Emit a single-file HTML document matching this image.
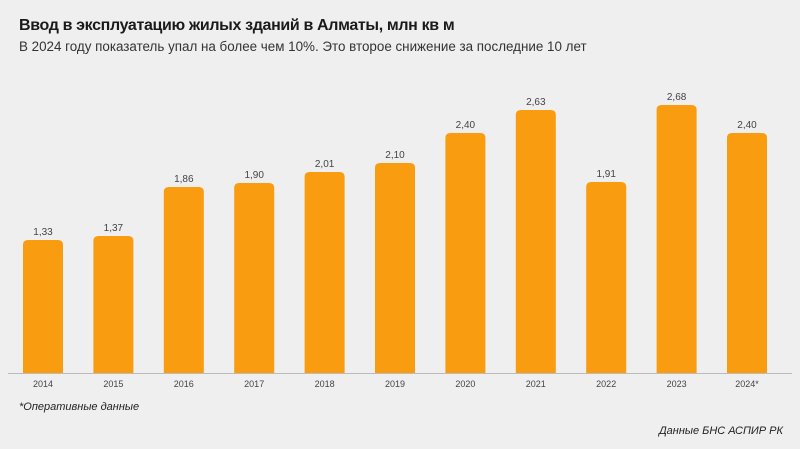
<!DOCTYPE html>
<html><head><meta charset="utf-8"><style>
body{margin:0;width:800px;height:449px;background:#efefef;font-family:"Liberation Sans",sans-serif;overflow:hidden;position:relative}
.t{position:absolute;left:19px;top:17px;font-size:16px;letter-spacing:-0.35px;font-weight:bold;color:#1a1a1a}
.s{position:absolute;left:19px;top:39px;font-size:13.4px;color:#333}
.f1{position:absolute;left:19px;top:401px;font-size:11px;font-style:italic;color:#222}
.f2{position:absolute;right:17px;top:425px;font-size:11px;font-style:italic;color:#222}
</style></head><body>
<div class="t">Ввод в эксплуатацию жилых зданий в Алматы, млн кв м</div>
<div class="s">В 2024 году показатель упал на более чем 10%. Это второе снижение за последние 10 лет</div>
<svg width="800" height="449" style="position:absolute;left:0;top:0" font-family="Liberation Sans,sans-serif">
<line x1="8" y1="373.5" x2="792" y2="373.5" stroke="#bbb" stroke-width="1"/>
<g id="b"></g>
</svg>
<div class="f1">*Оперативные данные</div>
<div class="f2">Данные БНС АСПИР РК</div>
<script>
var d=[["2014",1.33],["2015",1.37],["2016",1.86],["2017",1.90],["2018",2.01],["2019",2.10],["2020",2.40],["2021",2.63],["2022",1.91],["2023",2.68],["2024*",2.40]];
var g=document.getElementById("b"),h="";
d.forEach(function(e,i){var c=43+i*70.4,top=373-e[1]*100;
h+='<path d="M'+(c-20)+' 373 V'+(top+5)+' Q'+(c-20)+' '+top+' '+(c-15)+' '+top+' H'+(c+15)+' Q'+(c+20)+' '+top+' '+(c+20)+' '+(top+5)+' V373 Z" fill="#fa9c0f"/>';
h+='<text x="'+c+'" y="'+(top-5)+'" font-size="10" fill="#444" text-anchor="middle">'+e[1].toFixed(2).replace(".",",")+'</text>';
h+='<text x="'+c+'" y="387" font-size="9" fill="#444" text-anchor="middle">'+e[0]+'</text>';});
g.innerHTML=h;
</script>
</body></html>
